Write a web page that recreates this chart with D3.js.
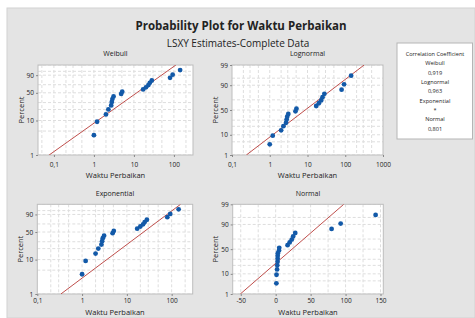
<!DOCTYPE html>
<html>
<head>
<meta charset="utf-8">
<script src="https://cdn.jsdelivr.net/npm/d3@7"></script>
<style>
  html, body { margin: 0; padding: 0; background: #ffffff; }
  svg { display: block; }
  text { font-family: "Open Sans", "Noto Sans", sans-serif; fill: #222; }
</style>
</head>
<body>
<script>
// ---------------- DATA ----------------
const repairTimes = [1.0, 1.2, 2.0, 2.3, 2.7, 2.8, 2.9, 3.1, 4.8, 5.1, 17, 20, 23, 25, 28, 80, 93, 143];
const plotPercents = [3.8, 9.2, 14.7, 20.1, 25.5, 31.0, 36.4, 41.8, 47.3, 52.7, 58.2, 63.6, 69.0, 74.5, 79.9, 85.3, 90.8, 96.2];

const fitPercents = [1, 99];
const weibullFit = [0.076, 112];
const lognormalFit = [0.24, 316];
const exponentialFit = [0.336, 158];
const normalFit = [-50.6, 97.4];

const logTicks3 = [0.1, 1, 10, 100];
const logTicks4 = [0.1, 1, 10, 100, 1000];
const linearTicks = [-50, 0, 50, 100, 150];
const percentTicksShort = [1, 10, 50, 90];
const percentTicksLong = [1, 10, 50, 90, 99];
const percentGrid = [1, 5, 10, 20, 30, 50, 70, 90, 95, 99];
const logGridMult = [1, 2, 3, 5];

const legendTitle = "Correlation Coefficient";
const legendNames = ["Weibull", "Lognormal", "Exponential", "Normal"];
const legendValues = ["0,919", "0,963", "*", "0,801"];

const mainTitle = "Probability Plot for Waktu Perbaikan";
const subTitle = "LSXY Estimates-Complete Data";
const xTitle = "Waktu Perbaikan";
const yTitle = "Percent";

// ---------------- HELPERS ----------------
function invNorm(p) {
  const a = [-3.969683028665376e+01, 2.209460984245205e+02, -2.759285104469687e+02, 1.383577518672690e+02, -3.066479806614716e+01, 2.506628277459239e+00];
  const b = [-5.447609879822406e+01, 1.615858368580409e+02, -1.556989798598866e+02, 6.680131188771972e+01, -1.328068155288572e+01];
  const c = [-7.784894002430293e-03, -3.223964580411365e-01, -2.400758277161838e+00, -2.549671464683570e+00, 4.374664141464968e+00, 2.938163982698783e+00];
  const d = [7.784695709041462e-03, 3.224671290700398e-01, 2.445134137142996e+00, 3.754408661907416e+00];
  const pl = 0.02425, ph = 1 - pl;
  let q, r;
  if (p < pl) { q = Math.sqrt(-2 * Math.log(p)); return (((((c[0]*q+c[1])*q+c[2])*q+c[3])*q+c[4])*q+c[5]) / ((((d[0]*q+d[1])*q+d[2])*q+d[3])*q+1); }
  if (p <= ph) { q = p - 0.5; r = q*q; return (((((a[0]*r+a[1])*r+a[2])*r+a[3])*r+a[4])*r+a[5])*q / (((((b[0]*r+b[1])*r+b[2])*r+b[3])*r+b[4])*r+1); }
  q = Math.sqrt(-2 * Math.log(1 - p));
  return -(((((c[0]*q+c[1])*q+c[2])*q+c[3])*q+c[4])*q+c[5]) / ((((d[0]*q+d[1])*q+d[2])*q+d[3])*q+1);
}
const weibT = p => Math.log(-Math.log(1 - p));

function probScale(t, range) {
  const lin = d3.scaleLinear().domain([t(0.01), t(0.99)]).range(range);
  const s = pct => lin(t(pct / 100));
  s.domain = () => [1, 99];
  s.range = () => lin.range();
  s.copy = () => probScale(t, range);
  return s;
}
const fmtNum = v => String(v).replace(".", ",");

// ---------------- LAYOUT ----------------
const W = 475, H = 318;
const svg = d3.select("body").append("svg").attr("width", W).attr("height", H);

svg.append("rect").attr("x", 7).attr("y", 8).attr("width", W - 7).attr("height", H - 8)
  .attr("fill", "#e4e4e4").attr("stroke", "#d2d2d2").attr("stroke-width", 1);

svg.append("text").attr("x", 241).attr("y", 29.5).attr("text-anchor", "middle")
  .attr("font-size", 11.5).attr("font-weight", "bold").text(mainTitle);
svg.append("text").attr("x", 238).attr("y", 47).attr("text-anchor", "middle")
  .attr("font-size", 10).text(subTitle);

const panels = [
  { name: "Weibull", x: [38, 193], y: [155, 65], log: true, xDomain: [0.04, 300], xTicks: logTicks3,
    t: weibT, yTicks: percentTicksShort, fit: weibullFit, titleY: 56, tickPad: 5, xLabY: 178, yLabX: 21 },
  { name: "Lognormal", x: [232, 383], y: [155, 65], log: true, xDomain: [0.1, 1000], xTicks: logTicks4,
    t: invNorm, yTicks: percentTicksLong, fit: lognormalFit, titleY: 56, tickPad: 5, xLabY: 178, yLabX: 215 },
  { name: "Exponential", x: [37.3, 192.7], y: [294, 204.3], log: true, xDomain: [0.1, 295], xTicks: logTicks3,
    t: weibT, yTicks: percentTicksShort, fit: exponentialFit, titleY: 196, tickPad: 2, xLabY: 315, yLabX: 20 },
  { name: "Normal", x: [232.7, 383.3], y: [294, 204.3], log: false, xDomain: [-61.5, 154], xTicks: linearTicks,
    t: invNorm, yTicks: percentTicksLong, fit: normalFit, titleY: 196, tickPad: 2, xLabY: 315, yLabX: 215 }
];

panels.forEach((P, idx) => {
  const g = svg.append("g");
  const xs = (P.log ? d3.scaleLog() : d3.scaleLinear()).domain(P.xDomain).range(P.x);
  const ys = probScale(P.t, P.y);
  const left = P.x[0], right = P.x[1], bottom = P.y[0], top = P.y[1];

  g.append("rect").attr("x", left).attr("y", top).attr("width", right - left).attr("height", bottom - top)
    .attr("fill", "#ffffff");

  const clipId = "clip" + idx;
  g.append("clipPath").attr("id", clipId).append("rect")
    .attr("x", left).attr("y", top).attr("width", right - left).attr("height", bottom - top);

  let xGrid;
  if (P.log) {
    xGrid = [];
    [0.01, 0.1, 1, 10, 100, 1000].forEach(dec => logGridMult.forEach(m => {
      const v = dec * m;
      if (v > P.xDomain[0] && v < P.xDomain[1]) xGrid.push(v);
    }));
  } else {
    xGrid = d3.range(-50, 151, 25);
  }
  const grid = g.append("g").attr("clip-path", `url(#${clipId})`);
  grid.selectAll("line.gx").data(xGrid).join("line")
    .attr("x1", d => xs(d)).attr("x2", d => xs(d)).attr("y1", top).attr("y2", bottom)
    .attr("stroke", "#dedede").attr("stroke-width", 1).attr("stroke-dasharray", "3,2");
  grid.selectAll("line.gy").data(percentGrid).join("line")
    .attr("x1", left).attr("x2", right).attr("y1", d => ys(d)).attr("y2", d => ys(d))
    .attr("stroke", "#dedede").attr("stroke-width", 1).attr("stroke-dasharray", "3,2");

  g.append("rect").attr("x", left).attr("y", top).attr("width", right - left).attr("height", bottom - top)
    .attr("fill", "none").attr("stroke", "#bdbdbd").attr("stroke-width", 1);

  const xAxis = d3.axisBottom(xs).tickValues(P.xTicks).tickFormat(fmtNum).tickSize(2).tickPadding(P.tickPad);
  const ax = g.append("g").attr("transform", `translate(0,${bottom})`).call(xAxis);
  const yAxis = d3.axisLeft(ys).tickValues(P.yTicks).tickFormat(fmtNum).tickSize(2).tickPadding(2);
  const ay = g.append("g").attr("transform", `translate(${left},0)`).call(yAxis);
  [ax, ay].forEach(a => {
    a.select(".domain").remove();
    a.selectAll(".tick line").attr("stroke", "#888");
    a.selectAll(".tick text").attr("font-size", 6.5).attr("fill", "#222")
      .attr("font-family", '"Open Sans", "Noto Sans", sans-serif');
  });

  g.append("g").attr("clip-path", `url(#${clipId})`).append("line")
    .attr("x1", xs(P.fit[0])).attr("y1", ys(fitPercents[0]))
    .attr("x2", xs(P.fit[1])).attr("y2", ys(fitPercents[1]))
    .attr("stroke", "#bf4f4c").attr("stroke-width", 1);

  g.selectAll("circle").data(repairTimes).join("circle")
    .attr("cx", d => xs(d)).attr("cy", (d, i) => ys(plotPercents[i]))
    .attr("r", 2.4).attr("fill", "#1259a8");

  g.append("text").attr("x", (left + right) / 2).attr("y", P.titleY).attr("text-anchor", "middle")
    .attr("font-size", 7).text(P.name);
  g.append("text").attr("x", (left + right) / 2).attr("y", P.xLabY).attr("text-anchor", "middle")
    .attr("font-size", 7.5).text(xTitle);
  g.append("text").attr("transform", `translate(${P.yLabX},${(top + bottom) / 2}) rotate(-90)`)
    .attr("text-anchor", "middle").attr("dy", "0.35em").attr("font-size", 7.5).text(yTitle);
});

const lg = svg.append("g");
lg.append("rect").attr("x", 397).attr("y", 43).attr("width", 75.5).attr("height", 96)
  .attr("fill", "#ffffff").attr("stroke", "#b5b5b5").attr("stroke-width", 1);
const legendLines = [legendTitle];
legendNames.forEach((n, i) => { legendLines.push(n); legendLines.push(legendValues[i]); });
lg.selectAll("text").data(legendLines).join("text")
  .attr("x", 435).attr("y", (d, i) => 56 + i * 9.35).attr("text-anchor", "middle")
  .attr("font-size", 5.6).text(d => d);
</script>
</body>
</html>
